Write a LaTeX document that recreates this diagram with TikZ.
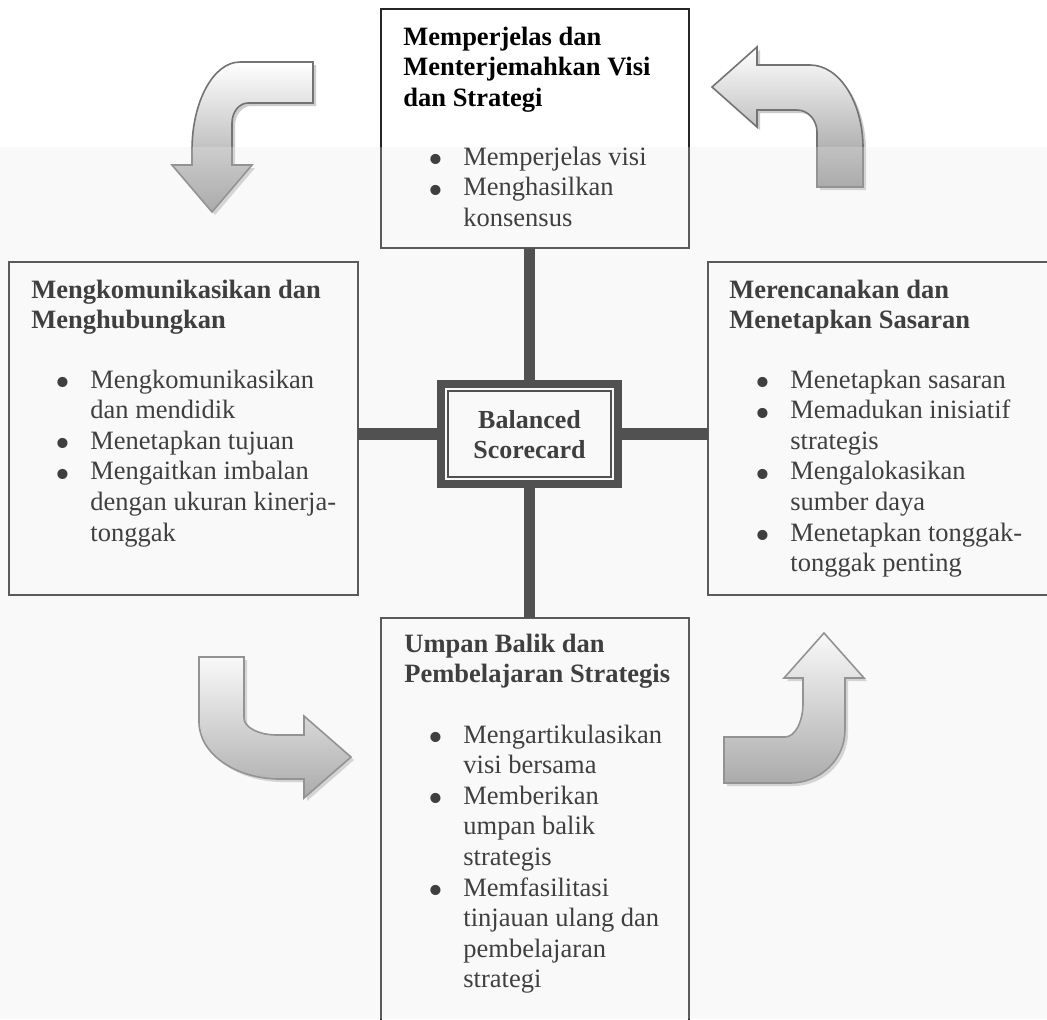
\documentclass[tikz,border=0pt]{standalone}
\usepackage{fontspec}
\setmainfont{Liberation Serif}

% body text size and line spacing
\newcommand{\bodysize}{\fontsize{13.25}{15.3}\selectfont}
% one bulleted item with hanging indent
\newcommand{\bitem}[1]{\par\noindent\hangindent=17.5pt\hangafter=1%
  \makebox[17.5pt][l]{\smash{\raisebox{-0.33em}{\scalebox{1.6}{\textbullet}}}}#1}

% outlines of the four bent block arrows (pixel-like units, y downwards)
\newcommand{\pathTL}{(313,62) -- (240,62) .. controls (213.5,62) and (192,101.4) .. (192,150) -- (192,165) -- (172,165) -- (212,212) -- (252,165) -- (232,165) -- (232,123) .. controls (232,112) and (239.2,103) .. (248,103) -- (313,103) -- cycle}
\newcommand{\pathTR}{(757,47) -- (712,87) -- (757,127) -- (757,110) -- (797,110) .. controls (808,110) and (817,120) .. (817,132) -- (817,187) -- (863,187) -- (863,148) .. controls (863,102.2) and (839.3,65) .. (810,65) -- (757,65) -- cycle}
\newcommand{\pathBL}{(199,657) -- (244,657) -- (244,718) .. controls (244,727.4) and (258.8,735) .. (277,735) -- (304,735) -- (304,716) -- (351,757) -- (304,798) -- (304,779) -- (280,779) .. controls (235.3,779) and (199,753.5) .. (199,722) -- cycle}
\newcommand{\pathBR}{(824,633) -- (864,678) -- (845,678) -- (845,730) .. controls (845,759.3) and (820.4,783) .. (790,783) -- (724,783) -- (724,737) -- (785,737) .. controls (795,737) and (803,721.8) .. (803,703) -- (803,678) -- (784,678) -- cycle}

\begin{document}
\begin{tikzpicture}[x=0.5pt,y=-0.5pt,
  every node/.style={font=\bodysize},
  panel/.style={draw=black!85, line width=0.85pt, inner sep=0pt, outer sep=0pt, anchor=north west},
  hub/.style={draw=black!90, line width=4pt, fill=white, inner sep=0pt, outer sep=0pt,
              minimum width=88.5pt, minimum height=50pt},
  bar/.style={line width=5.75pt, draw=black!90},
  heading/.style={font=\bodysize\bfseries, anchor=base west, inner sep=0pt},
  bullets/.style={anchor=base west, inner sep=0pt},
  arrowbody/.style={draw=black!55, line width=0.8pt, top color=white, bottom color=black!42},
  arrowshadow/.style={fill=black!20}
]
\useasboundingbox (0,0) rectangle (1047,1019);
\clip (0,0) rectangle (1047,1019);
\fill[white] (0,0) rectangle (1047,1019);

% bent arrows showing the cycle
\fill[arrowshadow, shift={(3,3)}] \pathTL;
\path[arrowbody] \pathTL;
\fill[arrowshadow, shift={(3,3)}] \pathTR;
\path[arrowbody] \pathTR;
\fill[arrowshadow, shift={(3,3)}] \pathBL;
\path[arrowbody] \pathBL;
\fill[arrowshadow, shift={(3,3)}] \pathBR;
\path[arrowbody] \pathBR;

% the four process boxes
\node[panel, minimum width=154pt, minimum height=119.5pt] (top) at (381,9) {};
\node[panel, minimum width=174.5pt, minimum height=166.5pt] (left) at (9,262) {};
\node[panel, minimum width=176pt, minimum height=166.5pt] (right) at (708,262) {};
\node[panel, minimum width=154pt, minimum height=211pt] (bottom) at (381,618) {};

% central hub and its links
\node[hub] (cbox) at (529.5,434) {};
\draw[bar] (cbox.north) -- (cbox.north |- top.south);
\draw[bar] (cbox.south) -- (cbox.south |- bottom.north);
\draw[bar] (cbox.west) -- (cbox.west -| left.east);
\draw[bar] (cbox.east) -- (cbox.east -| right.west);
\node[hub] (cboxfront) at (cbox) {};
\draw[line width=0.6pt, black!90] ([shift={(7,7)}]cboxfront.north west) rectangle ([shift={(-7,-7)}]cboxfront.south east);
\node[font=\fontsize{13}{15}\selectfont\bfseries, anchor=base, inner sep=0pt] (cboxtext) at (529.5,428)
  {\parbox[t]{100pt}{\centering Balanced\\Scorecard}};

% texts of the top box
\node[heading] (topHead) at (403,45) {\parbox[t]{170pt}{Memperjelas dan\\Menterjemahkan Visi\\dan Strategi}};
\node[bullets] (topList) at (428,165) {\parbox[t]{150pt}{%
  \bitem{Memperjelas visi}
  \bitem{Menghasilkan\\konsensus}}};

% texts of the left box
\node[heading] (leftHead) at (31,298) {\parbox[t]{170pt}{Mengkomunikasikan dan\\Menghubungkan}};
\node[bullets] (leftList) at (55,388) {\parbox[t]{170pt}{%
  \bitem{Mengkomunikasikan\\dan mendidik}
  \bitem{Menetapkan tujuan}
  \bitem{Mengaitkan imbalan\\dengan ukuran kinerja-\\tonggak}}};

% texts of the right box
\node[heading] (rightHead) at (729,298) {\parbox[t]{170pt}{Merencanakan dan\\Menetapkan Sasaran}};
\node[bullets] (rightList) at (755,388) {\parbox[t]{170pt}{%
  \bitem{Menetapkan sasaran}
  \bitem{Memadukan inisiatif\\strategis}
  \bitem{Mengalokasikan\\sumber daya}
  \bitem{Menetapkan tonggak-\\tonggak penting}}};

% texts of the bottom box
\node[heading] (bottomHead) at (404,652) {\parbox[t]{170pt}{Umpan Balik dan\\Pembelajaran Strategis}};
\node[bullets] (bottomList) at (428,743) {\parbox[t]{150pt}{%
  \bitem{Mengartikulasikan\\visi bersama}
  \bitem{Memberikan\\umpan balik\\strategis}
  \bitem{Memfasilitasi\\tinjauan ulang dan\\pembelajaran\\strategi}}};

% translucent emblem layer over the lower part of the page
\fill[black!8, fill opacity=0.27] (0,147) rectangle (1047,1019);
\end{tikzpicture}
\end{document}
